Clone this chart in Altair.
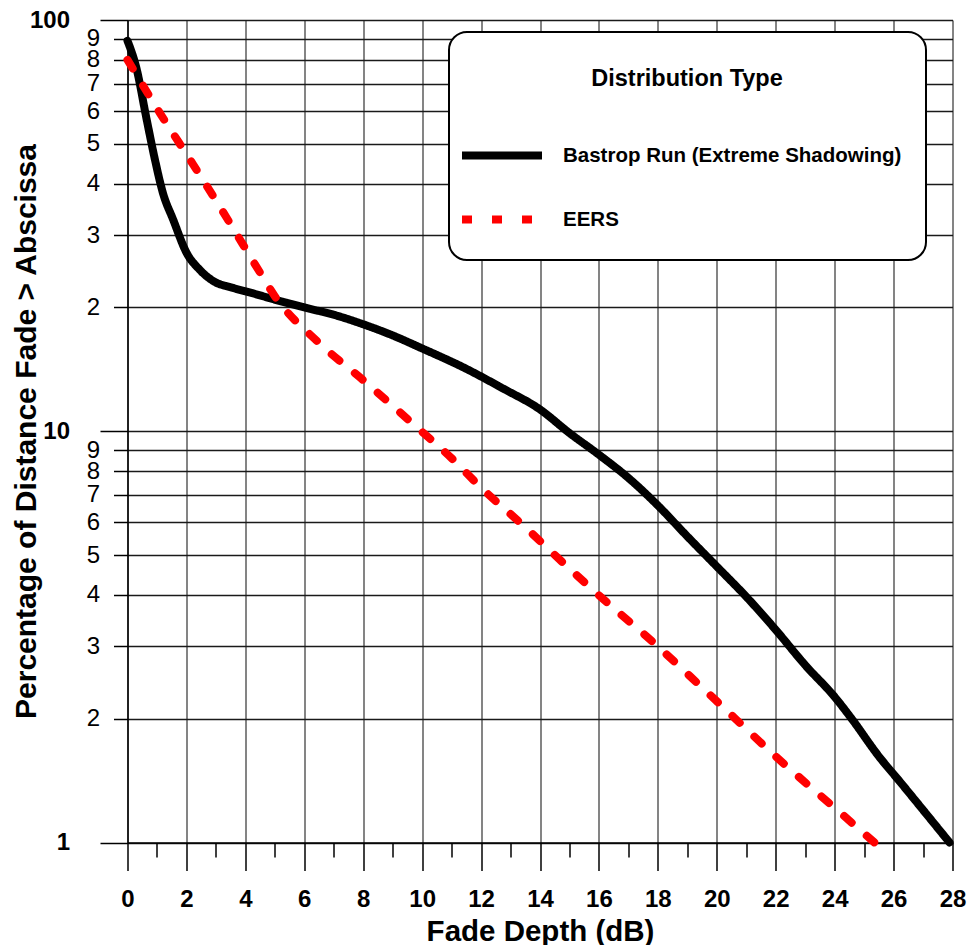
import altair as alt
import pandas as pd

# ---- data ----
series_names = ["Bastrop Run (Extreme Shadowing)", "EERS"]

fade_bastrop = [0, 0.3, 0.65, 0.93, 1.2, 1.55, 2.0, 2.45, 2.95, 3.5, 4.2, 5.1, 6.0, 7.0,
                8.0, 9.0, 10.0, 11.4, 12.75, 14.0, 15.0, 16.0, 17.0, 18.0, 19.0, 20.0,
                21.0, 22.0, 23.0, 24.0, 24.6, 25.5, 26.2, 27.0, 27.9]
pct_bastrop = [89, 76.5, 57.3, 45.8, 38.0, 32.7, 27.2, 24.7, 23.1, 22.4, 21.7, 20.8, 20.0, 19.2,
               18.2, 17.1, 15.9, 14.3, 12.7, 11.3, 9.9, 8.77, 7.7, 6.6, 5.55, 4.69,
               3.96, 3.29, 2.70, 2.26, 1.99, 1.62, 1.41, 1.2, 1.0]

fade_eers = [0, 1.1, 2.23, 3.37, 4.44, 5.0, 6.46, 8.06, 9.64, 11.17, 11.9, 13.49, 15.02,
             16.6, 17.49, 19.7, 22.04, 24.38, 25.35]
pct_eers = [80, 59.4, 44.5, 33.0, 24.7, 21.3, 16.5, 13.2, 10.5, 8.37, 7.41, 5.85, 4.62,
            3.66, 3.23, 2.31, 1.61, 1.15, 1.0]

x_ticks = list(range(0, 29))
y_ticks = [1, 2, 3, 4, 5, 6, 7, 8, 9, 10, 20, 30, 40, 50, 60, 70, 80, 90, 100]

df_b = pd.DataFrame({"fade": fade_bastrop, "pct": pct_bastrop,
                     "series": series_names[0], "idx": range(len(fade_bastrop))})
df_e = pd.DataFrame({"fade": fade_eers, "pct": pct_eers,
                     "series": series_names[1], "idx": range(len(fade_eers))})

FONT = "Liberation Sans, Arial, sans-serif"

major_y = "datum.value == 1 || datum.value == 10 || datum.value == 100"
odd_x = "datum.value % 2 != 0"

x_enc = alt.X(
    "fade:Q",
    scale=alt.Scale(domain=[0, 28], nice=False, zero=False),
    axis=alt.Axis(
        values=x_ticks,
        title="Fade Depth (dB)",
        labelExpr="datum.value % 2 == 0 ? datum.label : ''",
        tickSize={"condition": {"test": odd_x, "value": 14.5}, "value": 28},
        gridOpacity={"condition": {"test": odd_x, "value": 0}, "value": 1},
        labelPadding=17,
        labelFlush=False,
        labelOverlap=False,
        labelFont=FONT, labelFontSize=24, labelFontWeight="bold", labelColor="black",
        titleFont=FONT, titleFontSize=29.5, titleFontWeight="bold", titleColor="black",
        titleBaseline="alphabetic", titleY=97.5,
        gridColor="#777777", gridWidth=1.8,
        tickColor="black", tickWidth=1.5,
        domainColor="black", domainWidth=1.5,
    ),
)

y_enc = alt.Y(
    "pct:Q",
    scale=alt.Scale(type="log", domain=[1, 100], nice=False),
    axis=alt.Axis(
        values=y_ticks,
        title="Percentage of Distance Fade > Abscissa",
        labelExpr="datum.value > 10 && datum.value < 100 ? format(datum.value / 10, 'd') : format(datum.value, 'd')",
        tickSize={"condition": {"test": major_y, "value": 27.5}, "value": 14},
        labelPadding={"condition": {"test": major_y, "value": 30.5}, "value": 14},
        labelFontWeight={"condition": {"test": major_y, "value": "bold"}, "value": "normal"},
        labelOverlap=False,
        labelBound=False,
        labelFont=FONT, labelFontSize=24, labelColor="black",
        titleFont=FONT, titleFontSize=30, titleFontWeight="bold", titleColor="black",
        titleBaseline="alphabetic", titleX=-92.5, titleY=411,
        gridColor="#1a1a1a", gridWidth=1.3,
        tickColor="black", tickWidth=1.5,
        domainColor="black", domainWidth=1.5,
    ),
)

legend = alt.Legend(
    title="Distribution Type",
    orient="none", legendX=321.5, legendY=12,
    direction="vertical",
    symbolType="M-1,0H1", symbolSize=6400, symbolStrokeWidth=8,
    symbolOffset=-15,
    labelFont=FONT, labelFontSize=20.5, labelFontWeight="bold", labelColor="black",
    labelOffset=17, labelLimit=0,
    titleFont=FONT, titleFontSize=23.5, titleFontWeight="bold", titleColor="black",
    titleAlign="center", titleAnchor="middle", titleLimit=0,
    titleBaseline="line-top", titleLineHeight=46, titlePadding=32,
    rowPadding=4,
    padding=24, cornerRadius=18, fillColor="white", strokeColor="black",
)

color_enc = alt.Color("series:N", scale=alt.Scale(domain=series_names, range=["black", "#ff0000"]),
                      legend=legend)
dash_enc = alt.StrokeDash("series:N", scale=alt.Scale(domain=series_names, range=[[1, 0], [10, 20]]),
                          legend=legend)

base_line = dict(strokeWidth=8, strokeCap="round", strokeJoin="round", interpolate="monotone")

black = alt.Chart(df_b).mark_line(**base_line).encode(
    x=x_enc, y=y_enc, color=color_enc, strokeDash=dash_enc, order="idx:Q")
red = alt.Chart(df_e).mark_line(**base_line).encode(
    x=x_enc, y=y_enc, color=color_enc, strokeDash=dash_enc, order="idx:Q")

chart = alt.layer(black, red).properties(
    width=825, height=822.5,
    autosize=alt.AutoSizeParams(type="none"),
    padding={"left": 127.5, "top": 20, "right": 16.5, "bottom": 102.5},
    background="white",
).configure_view(stroke=None).configure_legend(strokeWidth=2)

chart.save("out.html", embed_options={"renderer": "svg", "actions": False})
